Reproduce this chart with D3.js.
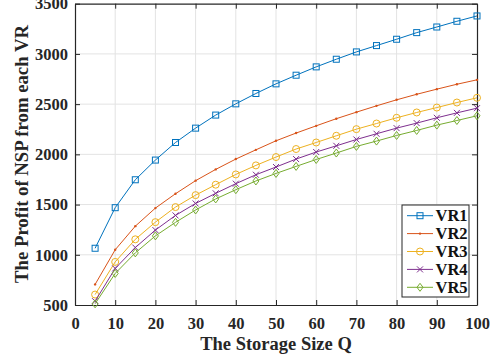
<!DOCTYPE html>
<html>
<head>
  <style>
    body { margin: 0; background: white; }
    svg text { font-family: "Liberation Serif", "Times New Roman", serif; font-weight: bold; }
  </style>
</head>
<body>
  <script src="https://d3js.org/d3.v7.min.js"></script>
  <script>
    // data
    const sizes = [5, 10, 15, 20, 25, 30, 35, 40, 45, 50, 55, 60, 65, 70, 75, 80, 85, 90, 95, 100];
    const vr1 = [1065, 1469, 1747, 1943, 2118, 2261, 2391, 2503, 2606, 2702, 2788, 2871, 2947, 3020, 3083, 3146, 3212, 3268, 3325, 3378];
    const vr2 = [705, 1050, 1285, 1465, 1608, 1738, 1850, 1953, 2045, 2135, 2212, 2284, 2355, 2420, 2483, 2543, 2598, 2649, 2698, 2742];
    const vr3 = [604, 929, 1154, 1325, 1475, 1594, 1698, 1800, 1890, 1973, 2053, 2118, 2185, 2251, 2307, 2364, 2417, 2466, 2516, 2563];
    const vr4 = [538, 864, 1072, 1246, 1392, 1511, 1612, 1708, 1797, 1874, 1953, 2023, 2085, 2148, 2205, 2261, 2311, 2364, 2413, 2460];
    const vr5 = [512, 814, 1019, 1188, 1323, 1446, 1556, 1648, 1735, 1810, 1880, 1949, 2013, 2079, 2132, 2188, 2238, 2291, 2337, 2384];
    const names = ['VR1', 'VR2', 'VR3', 'VR4', 'VR5'];
    const colors = ['#0072BD', '#D95319', '#EDB120', '#7E2F8E', '#77AC30'];
    const markers = ['square', 'point', 'circle', 'cross', 'diamond'];
    const xTicks = [0, 10, 20, 30, 40, 50, 60, 70, 80, 90, 100];
    const yTicks = [500, 1000, 1500, 2000, 2500, 3000, 3500];

    const series = [vr1, vr2, vr3, vr4, vr5].map((vals, i) => ({
      name: names[i], color: colors[i], marker: markers[i],
      points: vals.map((v, j) => ({ x: sizes[j], y: v }))
    }));

    const width = 497, height = 363;
    const m = { top: 3.7, right: 20, bottom: 58, left: 75 };

    const svg = d3.select('body').append('svg')
      .attr('width', width).attr('height', height);

    const x = d3.scaleLinear().domain([0, 100]).range([m.left, width - m.right]);
    const y = d3.scaleLinear().domain([500, 3500]).range([height - m.bottom, m.top]);

    // grid
    svg.append('g').selectAll('line').data(xTicks.slice(1, -1)).enter().append('line')
      .attr('x1', d => x(d)).attr('x2', d => x(d))
      .attr('y1', y(500)).attr('y2', y(3500))
      .attr('stroke', '#e3e3e3').attr('stroke-width', 1);
    svg.append('g').selectAll('line').data(yTicks.slice(1, -1)).enter().append('line')
      .attr('x1', x(0)).attr('x2', x(100))
      .attr('y1', d => y(d)).attr('y2', d => y(d))
      .attr('stroke', '#e3e3e3').attr('stroke-width', 1);

    // axes (ticks inside, box on)
    const fs = '16.5px';
    const fmt = d3.format('d');
    const xAxis = svg.append('g').attr('transform', `translate(0,${y(500)})`)
      .call(d3.axisBottom(x).tickValues(xTicks).tickFormat(fmt).tickSizeInner(-5).tickSizeOuter(0).tickPadding(12));
    const yAxis = svg.append('g').attr('transform', `translate(${x(0)},0)`)
      .call(d3.axisLeft(y).tickValues(yTicks).tickFormat(fmt).tickSizeInner(-5).tickSizeOuter(0).tickPadding(7));
    svg.append('g').attr('transform', `translate(0,${y(3500)})`)
      .call(d3.axisTop(x).tickValues(xTicks).tickSizeInner(-5).tickSizeOuter(0).tickFormat(''));
    svg.append('g').attr('transform', `translate(${x(100)},0)`)
      .call(d3.axisRight(y).tickValues(yTicks).tickSizeInner(-5).tickSizeOuter(0).tickFormat(''));
    svg.selectAll('.domain, .tick line').attr('stroke', '#262626');
    svg.selectAll('.domain').attr('stroke-width', 1.2);
    xAxis.selectAll('text').style('font-size', fs).attr('fill', '#262626');
    yAxis.selectAll('text').style('font-size', fs).attr('fill', '#262626');

    // axis titles
    svg.append('text').attr('x', (x(0) + x(100)) / 2).attr('y', 350)
      .attr('text-anchor', 'middle').style('font-size', '18.5px').attr('fill', '#262626')
      .text('The Storage Size Q');
    const yTitle = svg.append('text').attr('transform', 'translate(28,154) rotate(-90)')
      .attr('text-anchor', 'middle').style('font-size', '18px').attr('fill', '#262626')
      .text('The Profit of NSP from each VR');
    const len = yTitle.node().getComputedTextLength();
    if (len > 0) yTitle.style('font-size', (18 * 258 / len).toFixed(2) + 'px');

    function drawMarker(g, type, color) {
      if (type === 'square') {
        g.append('rect').attr('x', -3).attr('y', -3).attr('width', 6).attr('height', 6)
          .attr('fill', 'none').attr('stroke', color).attr('stroke-width', 1);
      } else if (type === 'point') {
        g.append('circle').attr('r', 1.2).attr('fill', color);
      } else if (type === 'circle') {
        g.append('circle').attr('r', 3.5).attr('fill', 'none').attr('stroke', color).attr('stroke-width', 1);
      } else if (type === 'cross') {
        g.append('path').attr('d', 'M-3,-3L3,3M-3,3L3,-3').attr('stroke', color).attr('stroke-width', 1);
      } else if (type === 'diamond') {
        g.append('path').attr('d', 'M0,-4L3,0L0,4L-3,0Z').attr('fill', 'none')
          .attr('stroke', color).attr('stroke-width', 1);
      }
    }

    const line = d3.line().x(d => x(d.x)).y(d => y(d.y));

    series.forEach(s => {
      svg.append('path').datum(s.points)
        .attr('d', line).attr('fill', 'none').attr('stroke', s.color).attr('stroke-width', 1);
      s.points.forEach(p => {
        const g = svg.append('g').attr('transform', `translate(${x(p.x)},${y(p.y)})`);
        drawMarker(g, s.marker, s.color);
      });
    });

    // legend
    const legend = svg.append('g').attr('transform', 'translate(402,205)');
    legend.append('rect').attr('width', 67).attr('height', 92)
      .attr('fill', 'white').attr('stroke', '#262626').attr('stroke-width', 1);
    series.forEach((s, i) => {
      const cy = 10.7 + i * 17.9;
      legend.append('line').attr('x1', 5).attr('x2', 31).attr('y1', cy).attr('y2', cy)
        .attr('stroke', s.color).attr('stroke-width', 1);
      drawMarker(legend.append('g').attr('transform', `translate(18,${cy})`), s.marker, s.color);
      legend.append('text').attr('x', 33.5).attr('y', cy + 5.5)
        .style('font-size', '16.5px').attr('fill', '#111').text(s.name);
    });
  </script>
</body>
</html>
